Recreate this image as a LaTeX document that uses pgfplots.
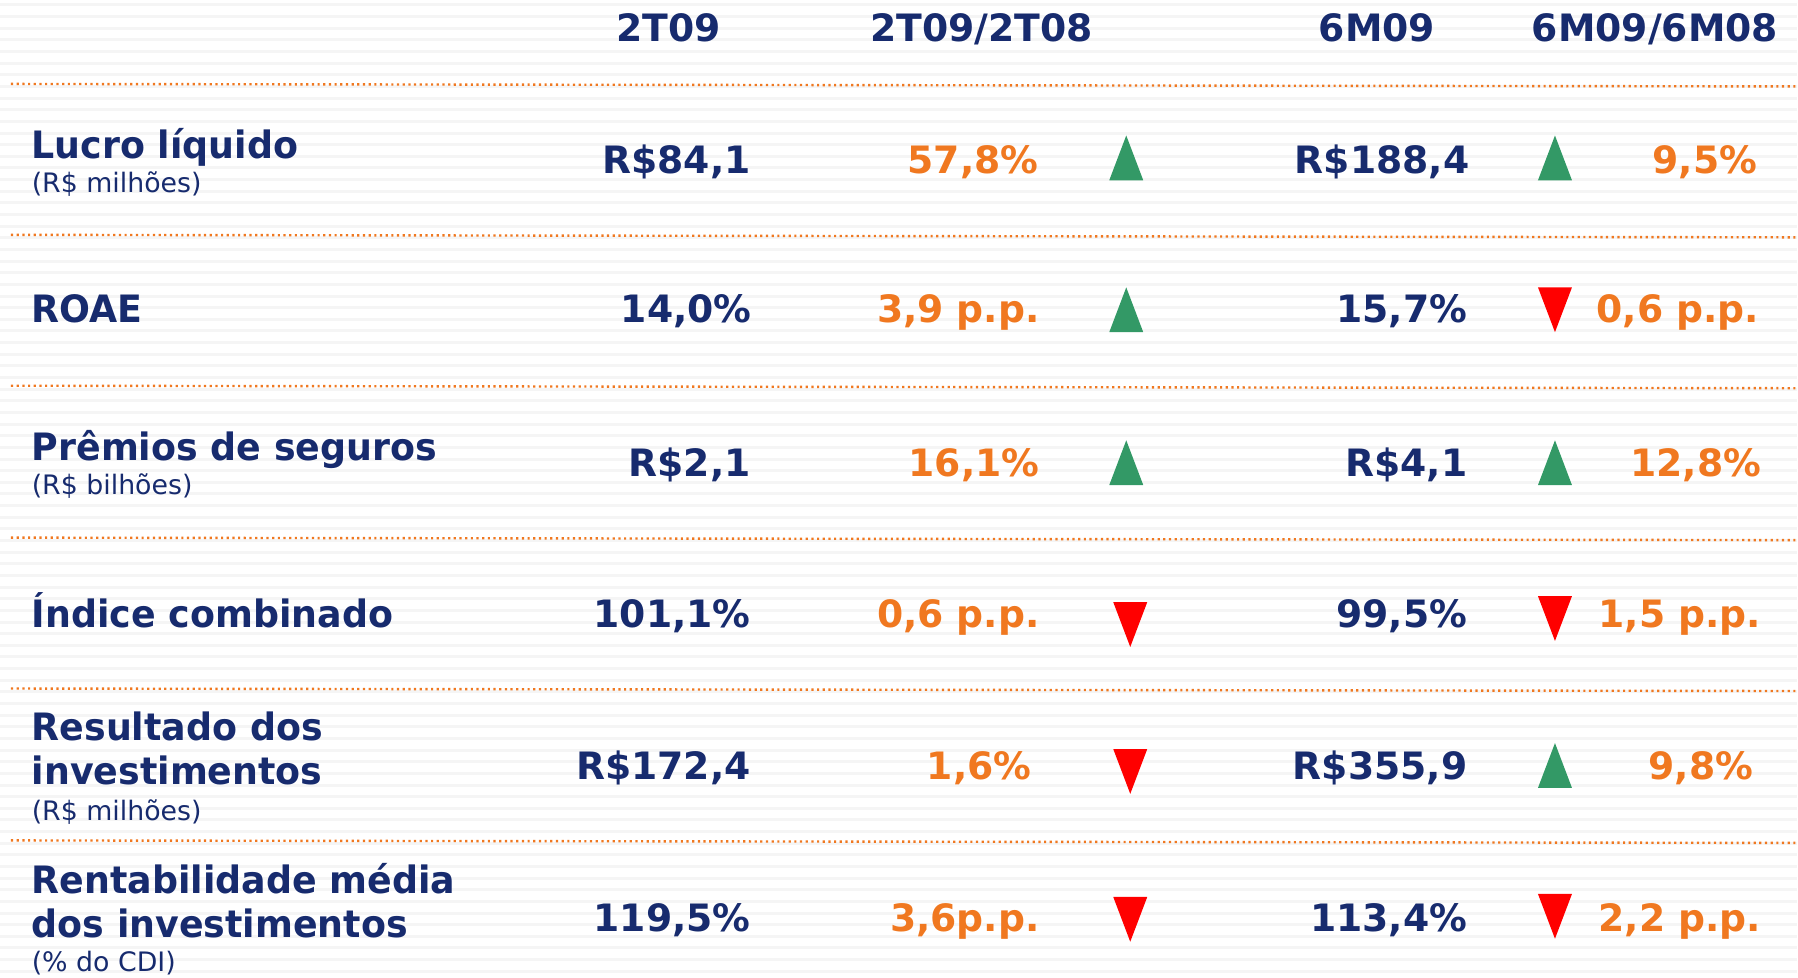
\documentclass[border=0pt]{standalone}
\usepackage{fontspec}
\setmainfont{DejaVu Sans}
\newfontfamily\labfont{DejaVu Sans}[FakeStretch=0.965]
\usepackage{pgfplots}
\pgfplotsset{compat=1.18}

\definecolor{navy}{RGB}{23,43,110}
\definecolor{tang}{RGB}{240,120,32}
\definecolor{upg}{RGB}{51,153,102}
\definecolor{dnr}{RGB}{255,0,0}
\definecolor{stripe}{RGB}{245,245,245}

% tall triangles for the arrows
\pgfdeclareplotmark{tri up}{%
  \pgfpathmoveto{\pgfpoint{-4.25bp}{-5.6bp}}%
  \pgfpathlineto{\pgfpoint{4.25bp}{-5.6bp}}%
  \pgfpathlineto{\pgfpoint{0bp}{5.6bp}}%
  \pgfpathclose\pgfusepathqfill}
\pgfdeclareplotmark{tri dn}{%
  \pgfpathmoveto{\pgfpoint{-4.25bp}{5.6bp}}%
  \pgfpathlineto{\pgfpoint{4.25bp}{5.6bp}}%
  \pgfpathlineto{\pgfpoint{0bp}{-5.6bp}}%
  \pgfpathclose\pgfusepathqfill}

\newcommand\vf{\bfseries\fontsize{9.43bp}{11bp}\selectfont}
\newcommand\lf{\labfont\bfseries\fontsize{9.43bp}{11bp}\selectfont}
\newcommand\subf{\fontsize{6.7bp}{8bp}\selectfont}

\tikzset{
  val/.style={anchor=base east,inner sep=0pt,font=\vf,text=navy},
  chg/.style={anchor=base east,inner sep=0pt,font=\vf,text=tang},
  hdr/.style={anchor=base,inner sep=0pt,font=\vf,text=navy},
  lab/.style={anchor=base west,inner sep=0pt,font=\lf,text=navy},
  sub/.style={anchor=base west,inner sep=0pt,font=\subf,text=navy},
  sep/.style={tang,line width=0.6bp,dash pattern=on 0.55bp off 0.87bp},
}

\begin{document}
\begin{tikzpicture}
\begin{axis}[scale only axis,width=449.5bp,height=244.5bp,
  xmin=0,xmax=1798,ymin=0,ymax=978,y dir=reverse,
  hide axis,clip=false]
% background stripes
\pgfplotsinvokeforeach{0,...,83}{
  \fill[stripe] (axis cs:0,{3.5+11.65*#1}) rectangle (axis cs:1798,{6.5+11.65*#1});
}
\path (axis cs:0,0) rectangle (axis cs:1798,978);
% dotted separators
\draw[sep] (axis cs:11,84) -- (axis cs:1798,86.5);
\draw[sep] (axis cs:11,235) -- (axis cs:1798,237.5);
\draw[sep] (axis cs:11,386) -- (axis cs:1798,388.5);
\draw[sep] (axis cs:11,538) -- (axis cs:1798,540.5);
\draw[sep] (axis cs:11,689) -- (axis cs:1798,691.5);
\draw[sep] (axis cs:11,841) -- (axis cs:1798,843.5);

% up / down markers
\addplot[only marks,mark=tri up,upg] coordinates {(1127,158)(1556,158)(1127,310)(1127,463)(1556,463)(1556,766)};
\addplot[only marks,mark=tri dn,dnr] coordinates {(1556,310)(1131,625)(1556,619)(1131,772)(1131,920)(1556,917)};

% headers
\node[hdr] at (axis cs:669,42) {2T09};
\node[hdr] at (axis cs:982,42) {2T09/2T08};
\node[hdr] at (axis cs:1378,42) {6M09};
\node[hdr] at (axis cs:1656,42) {6M09/6M08};

% row labels
\node[lab] at (axis cs:31,159) {Lucro líquido};
\node[sub] at (axis cs:31,193) {(R\$ milhões)};
\node[lab] at (axis cs:31,323) {ROAE};
\node[lab] at (axis cs:31,461) {Prêmios de seguros};
\node[sub] at (axis cs:31,495) {(R\$ bilhões)};
\node[lab] at (axis cs:31,628) {Índice combinado};
\node[lab] at (axis cs:31,741) {Resultado dos};
\node[lab] at (axis cs:31,785) {investimentos};
\node[sub] at (axis cs:31,821) {(R\$ milhões)};
\node[lab] at (axis cs:31,894) {Rentabilidade média};
\node[lab] at (axis cs:31,938) {dos investimentos};
\node[sub] at (axis cs:31,972) {(\% do CDI)};

% 2T09
\node[val] at (axis cs:752,174) {R\$84,1};
\node[val] at (axis cs:753,323) {14,0\%};
\node[val] at (axis cs:752,477) {R\$2,1};
\node[val] at (axis cs:752,628) {101,1\%};
\node[val] at (axis cs:752,780) {R\$172,4};
\node[val] at (axis cs:752,932) {119,5\%};
% 2T09/2T08
\node[chg] at (axis cs:1040,174) {57,8\%};
\node[chg] at (axis cs:1041,323) {3,9 p.p.};
\node[chg] at (axis cs:1041,477) {16,1\%};
\node[chg] at (axis cs:1041,628) {0,6 p.p.};
\node[chg] at (axis cs:1033,780) {1,6\%};
\node[chg] at (axis cs:1041,932) {3,6p.p.};
% 6M09
\node[val] at (axis cs:1471,174) {R\$188,4};
\node[val] at (axis cs:1469,323) {15,7\%};
\node[val] at (axis cs:1469,477) {R\$4,1};
\node[val] at (axis cs:1469,628) {99,5\%};
\node[val] at (axis cs:1469,780) {R\$355,9};
\node[val] at (axis cs:1469,932) {113,4\%};
% 6M09/6M08
\node[chg] at (axis cs:1759,174) {9,5\%};
\node[chg] at (axis cs:1761,323) {0,6 p.p.};
\node[chg] at (axis cs:1763,477) {12,8\%};
\node[chg] at (axis cs:1763,628) {1,5 p.p.};
\node[chg] at (axis cs:1755,780) {9,8\%};
\node[chg] at (axis cs:1763,932) {2,2 p.p.};
\end{axis}
\end{tikzpicture}
\end{document}
